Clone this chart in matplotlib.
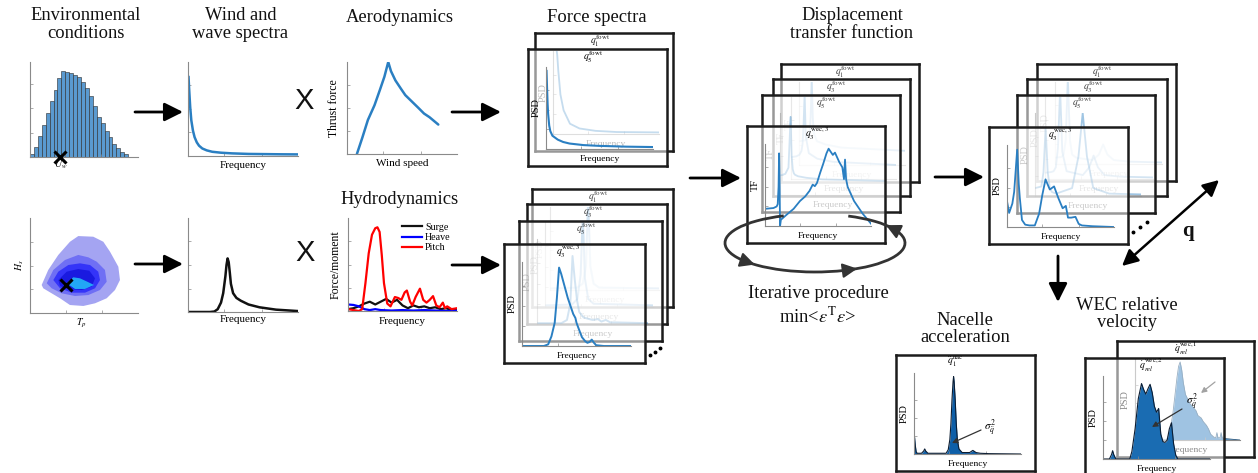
import numpy as np
import matplotlib
matplotlib.use("Agg")
import matplotlib.pyplot as plt
from matplotlib.patches import Arc

W, H = 1258, 473
plt.rcParams["font.family"] = ["Liberation Serif", "DejaVu Serif"]
plt.rcParams["mathtext.fontset"] = "stix"

# ---------------------------------------------------------------- data
# wind speed histogram (counts per bin)
hist_counts = [8, 30, 62, 95, 130, 165, 200, 235, 255, 252, 248, 243, 238,
               222, 205, 180, 152, 120, 100, 78, 58, 40, 26, 15, 8]
hist_mark = 7.6

# wind spectrum
wind_freq = [0.005, 0.01, 0.02, 0.03, 0.045, 0.06, 0.08, 0.1, 0.13, 0.17,
             0.22, 0.3, 0.4, 0.55, 0.7, 0.85, 1.0]
wind_psd = [0.84, 0.72, 0.52, 0.38, 0.27, 0.2, 0.145, 0.11, 0.08, 0.06,
            0.045, 0.035, 0.028, 0.022, 0.02, 0.018, 0.017]

# wave spectrum
wave_freq = [0, 0.2, 0.24, 0.27, 0.3, 0.32, 0.34, 0.35, 0.36, 0.37, 0.38,
             0.39, 0.41, 0.44, 0.48, 0.55, 0.65, 0.8, 1.0]
wave_psd = [0, 0, 0.005, 0.03, 0.1, 0.2, 0.38, 0.5, 0.57, 0.53, 0.42, 0.3,
            0.2, 0.15, 0.12, 0.08, 0.05, 0.025, 0.01]

# scatter diagram contours (Tp, Hs), outer to inner level
contour_levels = [
    ([0.108, 0.169, 0.262, 0.37, 0.447, 0.586, 0.679, 0.741, 0.818, 0.833,
      0.787, 0.71, 0.602, 0.494, 0.37, 0.278, 0.201, 0.123],
     [0.295, 0.453, 0.611, 0.75, 0.81, 0.803, 0.75, 0.645, 0.487, 0.347,
      0.242, 0.155, 0.102, 0.074, 0.084, 0.155, 0.207, 0.26]),
    ([0.155, 0.216, 0.324, 0.447, 0.54, 0.618, 0.694, 0.71, 0.648, 0.54,
      0.417, 0.294, 0.201],
     [0.313, 0.453, 0.558, 0.611, 0.586, 0.54, 0.453, 0.329, 0.242, 0.189,
      0.179, 0.207, 0.26]),
    ([0.216, 0.262, 0.355, 0.463, 0.556, 0.632, 0.648, 0.602, 0.509, 0.386,
      0.278],
     [0.347, 0.435, 0.505, 0.523, 0.505, 0.435, 0.347, 0.26, 0.214, 0.214,
      0.26]),
    ([0.262, 0.34, 0.447, 0.549, 0.602, 0.571, 0.479, 0.355, 0.278],
     [0.347, 0.435, 0.463, 0.445, 0.365, 0.277, 0.242, 0.249, 0.284]),
    ([0.34, 0.401, 0.463, 0.531, 0.593, 0.509, 0.417],
     [0.313, 0.376, 0.365, 0.329, 0.295, 0.253, 0.253]),
]
contour_colors = ["#a4a4f2", "#6f6ff4", "#3434f8", "#1a1ae0", "#22a6f6"]
sea_state = (0.333, 0.295)

# thrust curve
thrust_ws = [0.09, 0.14, 0.19, 0.25, 0.30, 0.34, 0.375, 0.40, 0.44, 0.49,
             0.53, 0.59, 0.65, 0.70, 0.75, 0.83]
thrust_f = [0.0, 0.18, 0.37, 0.53, 0.70, 0.84, 1.0, 0.9, 0.8, 0.71, 0.64,
            0.57, 0.5, 0.44, 0.4, 0.32]

# hydrodynamic excitation
pitch_freq = [0, 0.05, 0.1, 0.13, 0.16, 0.19, 0.22, 0.25, 0.27, 0.29, 0.31,
              0.33, 0.36, 0.39, 0.43, 0.46, 0.49, 0.52, 0.54, 0.57, 0.59,
              0.62, 0.66, 0.69, 0.72, 0.75, 0.78, 0.81, 0.84, 0.87, 0.89,
              0.91, 0.95, 1.0]
pitch_val = [0.02, 0.01, 0.0, 0.02, 0.3, 0.62, 0.82, 0.89, 0.9, 0.85, 0.6,
             0.3, 0.08, 0.05, 0.15, 0.14, 0.12, 0.2, 0.22, 0.1, 0.06, 0.15,
             0.24, 0.12, 0.09, 0.12, 0.16, 0.06, 0.04, 0.09, 0.03, 0.05,
             0.02, 0.03]
surge_freq = [0, 0.05, 0.1, 0.15, 0.2, 0.25, 0.3, 0.35, 0.4, 0.45, 0.5,
              0.55, 0.6, 0.65, 0.7, 0.75, 0.8, 0.85, 0.9, 0.95, 1.0]
surge_val = [0.02, 0.03, 0.05, 0.08, 0.1, 0.07, 0.1, 0.13, 0.09, 0.12, 0.06,
             0.03, 0.06, 0.04, 0.05, 0.03, 0.04, 0.02, 0.03, 0.01, 0.02]
heave_freq = [0, 0.05, 0.1, 0.15, 0.2, 0.25, 0.3, 0.4, 0.5, 0.6, 0.7, 0.8,
              0.9, 1.0]
heave_val = [0.07, 0.065, 0.05, 0.02, 0.01, 0.02, 0.01, 0.005, 0.01, 0.005,
             0.01, 0.005, 0.0, 0.005]

# wind force spectra
fw_q1_freq = [0.02, 0.04, 0.05, 0.07, 0.1, 0.16, 0.25, 0.4, 0.6, 1.0]
fw_q1_psd = [1.2, 1.0, 0.8, 0.5, 0.3, 0.13, 0.07, 0.04, 0.025, 0.02]
fw_q5_freq = [0.005, 0.01, 0.015, 0.02, 0.03, 0.04, 0.06, 0.08, 0.11, 0.16,
              0.22, 0.35, 0.5, 0.75, 1.0]
fw_q5_psd = [1.0, 0.78, 0.58, 0.45, 0.3, 0.23, 0.17, 0.15, 0.12, 0.09, 0.07,
             0.05, 0.04, 0.03, 0.025]

# wave force spectra
fh_freq = [0, 0.25, 0.3, 0.33, 0.35, 0.37, 0.4, 0.45, 1.0]
fh_q1_psd = [0.02, 0.03, 0.08, 0.3, 1.15, 0.3, 0.08, 0.03, 0.02]
fh_q3_psd = [0.02, 0.03, 0.1, 0.4, 1.15, 0.35, 0.1, 0.04, 0.02]
fh_q5_freq = [0, 0.22, 0.27, 0.3, 0.32, 0.34, 0.36, 0.38, 0.42, 0.5, 0.55,
              0.58, 0.62, 0.66, 0.7, 1.0]
fh_q5_psd = [0.01, 0.01, 0.05, 0.25, 0.84, 0.55, 0.3, 0.15, 0.08, 0.05, 0.06,
             0.03, 0.05, 0.02, 0.02, 0.01]
fh_w3_freq = [0, 0.2, 0.24, 0.27, 0.3, 0.32, 0.34, 0.36, 0.39, 0.42, 0.44,
              0.47, 0.49, 0.5, 0.53, 0.55, 0.58, 0.6, 0.62, 0.64, 0.66, 0.68,
              0.75, 1.0]
fh_w3_psd = [0, 0, 0.02, 0.12, 0.29, 0.6, 0.98, 0.9, 0.75, 0.6, 0.52, 0.4,
             0.35, 0.29, 0.18, 0.11, 0.06, 0.04, 0.05, 0.08, 0.04, 0.01, 0.0,
             0.0]

# displacement transfer functions
tf_back_freq = [0, 0.05, 0.08, 0.1, 0.11, 0.12, 0.13, 0.14, 0.17, 0.25, 0.4,
                0.7, 1.0]
tf_q1 = [0.3, 0.31, 0.33, 0.4, 0.6, 1.1, 0.6, 0.4, 0.3, 0.26, 0.22, 0.2, 0.18]
tf_q3 = [0.28, 0.29, 0.31, 0.36, 0.45, 0.7, 1.1, 0.55, 0.33, 0.26, 0.22,
         0.2, 0.18]
tf_q5 = [0.25, 0.27, 0.35, 1.0, 0.5, 0.33, 0.28, 0.26, 0.24, 0.22, 0.2,
         0.19, 0.18]
tf_w3_freq = [0, 0.08, 0.11, 0.12, 0.128, 0.133, 0.138, 0.142, 0.15, 0.2,
              0.27, 0.33, 0.38, 0.42, 0.45, 0.47, 0.49, 0.52, 0.55, 0.58,
              0.6, 0.62, 0.64, 0.66, 0.68, 0.7, 0.73, 0.745, 0.755, 0.765,
              0.78, 0.84, 0.92, 1.0]
tf_w3 = [0.22, 0.23, 0.25, 0.28, 0.5, 0.93, 0.5, 0.0, 0.08, 0.14, 0.22, 0.32,
         0.38, 0.45, 0.53, 0.51, 0.55, 0.68, 0.8, 0.93, 0.99, 0.95, 0.91,
         0.94, 0.88, 0.82, 0.75, 0.6, 0.85, 0.6, 0.5, 0.32, 0.16, 0.03]

# displacement response spectra
rs_back_freq = [0, 0.06, 0.08, 0.1, 0.12, 0.14, 0.16, 0.2, 0.35, 0.41, 0.45,
                0.49, 0.55, 0.7, 1.0]
rs_q1 = [0.08, 0.09, 0.12, 0.3, 1.1, 0.3, 0.12, 0.08, 0.05, 0.12, 0.25,
         0.12, 0.05, 0.03, 0.02]
rs_q3 = [0.08, 0.09, 0.1, 0.15, 0.4, 1.15, 0.35, 0.1, 0.05, 0.15, 0.3, 0.15,
         0.05, 0.03, 0.02]
rs_q5 = [0.1, 0.12, 0.3, 0.86, 0.3, 0.1, 0.05, 0.03, 0.1, 0.5, 1.05, 0.5,
         0.1, 0.03, 0.02]
rs_w3_freq = [0, 0.02, 0.05, 0.067, 0.08, 0.095, 0.11, 0.12, 0.14, 0.17,
              0.21, 0.26, 0.3, 0.33, 0.36, 0.4, 0.44, 0.48, 0.52, 0.55, 0.57,
              0.6, 0.64, 0.67, 0.7, 0.8, 1.0]
rs_w3 = [0.33, 0.18, 0.3, 0.45, 0.7, 0.99, 0.55, 0.37, 0.09, 0.03, 0.02,
         0.02, 0.17, 0.41, 0.61, 0.48, 0.52, 0.37, 0.24, 0.27, 0.12, 0.12,
         0.13, 0.04, 0.02, 0.01, 0.0]

# nacelle acceleration spectrum
nac_freq = [0, 0.005, 0.012, 0.02, 0.03, 0.07, 0.09, 0.1, 0.11, 0.13, 0.3,
            0.32, 0.335, 0.345, 0.355, 0.365, 0.37, 0.375, 0.385, 0.395,
            0.405, 0.42, 0.45, 0.52, 0.55, 0.58, 0.62, 0.7, 1.0]
nac_psd = [0.02, 0.23, 0.12, 0.03, 0.01, 0.01, 0.04, 0.07, 0.04, 0.01, 0.01,
           0.06, 0.2, 0.42, 0.75, 1.0, 1.07, 1.0, 0.75, 0.42, 0.2, 0.07,
           0.02, 0.02, 0.05, 0.02, 0.01, 0.005, 0.0]

# WEC relative velocity spectra
wec1_freq = [0, 0.3, 0.33, 0.36, 0.38, 0.4, 0.415, 0.43, 0.445, 0.46, 0.48,
             0.5, 0.52, 0.55, 0.58, 0.6, 0.63, 0.65, 0.68, 0.7, 0.72, 0.75,
             0.77, 0.78, 0.79, 0.81, 0.82, 0.83, 0.85, 1.0]
wec1_psd = [0, 0, 0.1, 0.35, 0.6, 0.85, 1.0, 1.06, 0.95, 0.78, 0.62, 0.56,
            0.5, 0.45, 0.40, 0.33, 0.3, 0.25, 0.2, 0.15, 0.08, 0.04, 0.03,
            0.1, 0.03, 0.03, 0.1, 0.03, 0.02, 0.0]
wec2_freq = [0, 0.06, 0.08, 0.09, 0.1, 0.12, 0.25, 0.27, 0.3, 0.33, 0.36,
             0.38, 0.40, 0.42, 0.44, 0.46, 0.48, 0.5, 0.52, 0.54, 0.56, 0.58,
             0.6, 0.62, 0.64, 0.66, 0.68, 0.70, 1.0]
wec2_psd = [0, 0.0, 0.06, 0.11, 0.06, 0.0, 0.0, 0.1, 0.4, 0.8, 1.0, 0.92,
            0.86, 0.93, 0.99, 0.88, 0.7, 0.62, 0.67, 0.33, 0.23, 0.22, 0.25,
            0.4, 0.48, 0.2, 0.05, 0.0, 0.0]

BLUE = "#2a7fc2"
NAC_FILL = "#0e5fa8"
WEC_FILL = "#1a6cb2"
WEC_BACK_FILL = "#2c7cc0"

# ---------------------------------------------------------------- helpers
fig = plt.figure(figsize=(W / 100, H / 100), dpi=100)


def fx(x):
    return x / W


def fy(y):
    return 1 - y / H


def add_box(x0, y0, x1, y1, z):
    ax = fig.add_axes([fx(x0), fy(y1), (x1 - x0) / W, (y1 - y0) / H])
    ax.set_zorder(z)
    return ax


def label(ax, x, y, s, **kw):
    kw.setdefault("ha", "center")
    kw.setdefault("va", "center")
    return ax.text(fx(x), fy(y), s, transform=fig.transFigure, **kw)


def style_mini(ax, xlim=(0, 1), ylim=(0, 1), xticks=(0.33, 0.67),
               yticks=(0.25, 0.5, 0.75), alpha=1.0):
    ax.set_xlim(*xlim)
    ax.set_ylim(*ylim)
    ax.patch.set_visible(False)
    ax.spines["top"].set_visible(False)
    ax.spines["right"].set_visible(False)
    for s in ("left", "bottom"):
        ax.spines[s].set_color("#8a8a8a")
        ax.spines[s].set_linewidth(0.8)
        ax.spines[s].set_alpha(alpha)
    ax.set_xticks(xticks)
    ax.set_yticks(yticks)
    ax.tick_params(direction="in", length=2, width=0.5,
                   colors=(0.54, 0.54, 0.54, alpha),
                   labelleft=False, labelbottom=False)


def stack_frame(x0, y0, x1, y1, z, ylab="PSD", top=None, top_dx=-4,
                top_dy=8, fade=0.55, ylim=(0, 1.05), dim=1.0):
    fr = add_box(x0, y0, x1, y1, z)
    fr.set_xticks([])
    fr.set_yticks([])
    fr.set_facecolor((1, 1, 1, fade))
    for sp in fr.spines.values():
        sp.set_linewidth(1.8)
        sp.set_color("#1c1c1c")
    inner = add_box(x0 + 18, y0 + 18, x1 - 14, y1 - 17, z + 0.5)
    style_mini(inner, ylim=ylim, alpha=dim)
    label(inner, x0 + 8, (y0 + y1 + 1) / 2, ylab, rotation=90, fontsize=7.5,
          alpha=dim)
    label(inner, (x0 + x1 + 4) / 2, y1 - 7, "Frequency", fontsize=6.8,
          alpha=dim)
    if top:
        label(inner, (x0 + x1) / 2 + top_dx, y0 + top_dy, top, fontsize=7,
              alpha=min(1.0, dim + 0.3))
    return fr, inner


def pointer(ax, x0, y0, x1, y1):
    ax.annotate("", xy=(fx(x1), fy(y1)), xycoords="figure fraction",
                xytext=(fx(x0), fy(y0)), textcoords="figure fraction",
                arrowprops=dict(arrowstyle="-|>", color="#333333", lw=0.9,
                                mutation_scale=8, shrinkA=0, shrinkB=0))


# ---------------------------------------------------------------- row 1
ax = add_box(30, 62, 138, 157, 1)
ax.bar(range(len(hist_counts)), hist_counts, width=1, align="edge",
       color="#5a9ad0", edgecolor="#2a2a2a", linewidth=0.4)
style_mini(ax, xlim=(0, 27.5), ylim=(0, 282), xticks=(9, 18),
           yticks=(72, 144, 216))
ax.plot(hist_mark, 0, marker="x", ms=8, mew=2.2, color="k", clip_on=False,
        zorder=5)
label(ax, 61, 165, r"$U_w$", fontsize=7)

ax = add_box(188, 62, 298, 156, 1)
ax.plot(wind_freq, wind_psd, color=BLUE, lw=1.8)
style_mini(ax)
label(ax, 243, 165, "Frequency", fontsize=8)

ax = add_box(347, 62, 457, 154, 1)
ax.plot(thrust_ws, thrust_f, color=BLUE, lw=1.8, solid_capstyle="round")
style_mini(ax, ylim=(0, 1.0))
label(ax, 334, 108, "Thrust force", rotation=90, fontsize=8.5)
label(ax, 402, 164, "Wind speed", fontsize=8)

# ---------------------------------------------------------------- row 2
ax = add_box(30, 218, 138, 313, 1)
for (px, py), col in zip(contour_levels, contour_colors):
    ax.fill(px, py, color=col, lw=0)
style_mini(ax)
ax.plot(*sea_state, marker="x", ms=8, mew=2.2, color="k")
label(ax, 20, 265, r"$H_s$", rotation=90, fontsize=7)
label(ax, 81, 323, r"$T_p$", fontsize=7)

ax = add_box(188, 218, 298, 312, 1)
ax.plot(wave_freq, wave_psd, color="#111111", lw=1.8)
style_mini(ax)
label(ax, 243, 320, "Frequency", fontsize=8)

ax = add_box(348, 218, 457, 311, 1)
ax.plot(surge_freq, surge_val, color="#111111", lw=1.6, label="Surge")
ax.plot(heave_freq, heave_val, color="#0000ff", lw=1.6, label="Heave")
ax.plot(pitch_freq, pitch_val, color="#ff0000", lw=1.6, label="Pitch")
style_mini(ax)
ax.legend(loc="upper left", bbox_to_anchor=(fx(402), fy(223)),
          bbox_transform=fig.transFigure, frameon=False, fontsize=7.2,
          handlelength=2.0, handletextpad=0.3, labelspacing=0.12,
          borderpad=0, borderaxespad=0)
label(ax, 336, 265, "Force/moment", rotation=90, fontsize=8.5)
label(ax, 402, 321, "Frequency", fontsize=8)

# ---------------------------------------------------------------- force spectra
_, inn = stack_frame(535, 33, 673, 151, 2, top=r"$q_1^{\mathrm{fowt}}$",
                     dim=0.6)
inn.plot(fw_q1_freq, fw_q1_psd, color=BLUE, lw=1.3, alpha=0.6)
_, inn = stack_frame(528, 49, 667, 166, 3, top=r"$q_5^{\mathrm{fowt}}$")
inn.plot(fw_q5_freq, fw_q5_psd, color=BLUE, lw=1.5)

wave_force_stack = [
    ((532, 189, 673, 307), r"$q_1^{\mathrm{fowt}}$", fh_freq, fh_q1_psd),
    ((527, 204, 667, 324), r"$q_3^{\mathrm{fowt}}$", fh_freq, fh_q3_psd),
    ((519, 221, 662, 341), r"$q_5^{\mathrm{fowt}}$", fh_q5_freq, fh_q5_psd),
    ((504, 244, 645, 363), r"$q_3^{\mathrm{wec,3}}$", fh_w3_freq, fh_w3_psd),
]
for k, (bx, tl, fq, vals) in enumerate(wave_force_stack):
    front = k == len(wave_force_stack) - 1
    d = 1.0 if front else 0.45
    _, inn = stack_frame(*bx, 2 + k, top=tl, dim=d,
                         top_dx=-6 if front else -4)
    inn.plot(fq, vals, color=BLUE, lw=1.4, alpha=d)

# ---------------------------------------------------------------- transfer functions
tf_stack = [
    ((781, 64, 919, 182), r"$q_1^{\mathrm{fowt}}$", tf_back_freq, tf_q1),
    ((773, 79, 910, 196), r"$q_3^{\mathrm{fowt}}$", tf_back_freq, tf_q3),
    ((762, 95, 900, 212), r"$q_5^{\mathrm{fowt}}$", tf_back_freq, tf_q5),
    ((747, 126, 885, 243), r"$q_3^{\mathrm{wec,3}}$", tf_w3_freq, tf_w3),
]
for k, (bx, tl, fq, vals) in enumerate(tf_stack):
    front = k == len(tf_stack) - 1
    d = 1.0 if front else 0.45
    _, inn = stack_frame(*bx, 2 + k, ylab="TF", top=tl, dim=d,
                         top_dx=1 if front else -5)
    inn.plot(fq, vals, color=BLUE, lw=1.3, alpha=d)

# ---------------------------------------------------------------- response spectra
rs_stack = [
    ((1037, 64, 1176, 181), r"$q_1^{\mathrm{fowt}}$", rs_back_freq, rs_q1),
    ((1027, 79, 1167, 196), r"$q_3^{\mathrm{fowt}}$", rs_back_freq, rs_q3),
    ((1017, 95, 1155, 213), r"$q_5^{\mathrm{fowt}}$", rs_back_freq, rs_q5),
    ((989, 127, 1128, 244), r"$q_3^{\mathrm{wec,3}}$", rs_w3_freq, rs_w3),
]
for k, (bx, tl, fq, vals) in enumerate(rs_stack):
    front = k == len(rs_stack) - 1
    d = 1.0 if front else 0.45
    _, inn = stack_frame(*bx, 2 + k, top=tl, dim=d,
                         top_dx=2 if front else -4)
    inn.plot(fq, vals, color=BLUE, lw=1.3, alpha=d)

# ---------------------------------------------------------------- nacelle
_, inn = stack_frame(896, 355, 1035, 471, 2, top=r"$\ddot{q}_1^{\mathrm{nac}}$",
                     top_dx=-10, top_dy=7, fade=1.0, ylim=(0, 1.12))
inn.fill_between(nac_freq, nac_psd, color=NAC_FILL, lw=0)
inn.plot(nac_freq, nac_psd, color="#0b1d33", lw=0.8)
pointer(inn, 981, 430, 952, 443)
label(inn, 990, 428, r"$\sigma^2_{\ddot{q}}$", fontsize=8)

# ---------------------------------------------------------------- WEC
_, inn = stack_frame(1117, 341, 1254, 457, 2,
                     top=r"$\dot{q}_{rel}^{\mathrm{wec,1}}$", top_dx=0,
                     top_dy=7, ylim=(0, 1.1))
inn.fill_between(wec1_freq, wec1_psd, color=WEC_BACK_FILL, lw=0)
inn.plot(wec1_freq, wec1_psd, color="#1d4f7a", lw=0.6)
pointer(inn, 1215, 382, 1201, 393)
_, inn = stack_frame(1085, 358, 1224, 476, 3,
                     top=r"$\dot{q}_{rel}^{\mathrm{wec,2}}$", top_dx=-4,
                     top_dy=7, ylim=(0, 1.1))
inn.fill_between(wec2_freq, wec2_psd, color=WEC_FILL, lw=0)
inn.plot(wec2_freq, wec2_psd, color="#0b1d33", lw=0.8)
pointer(inn, 1182, 409, 1152, 427)
label(inn, 1192, 402, r"$\sigma^2_{\dot{q}}$", fontsize=8)

# ---------------------------------------------------------------- overlay
ov = fig.add_axes([0, 0, 1, 1])
ov.set_xlim(0, W)
ov.set_ylim(H, 0)
ov.axis("off")
ov.set_zorder(50)

titles = [
    ("Environmental", 86, 16), ("conditions", 86, 33),
    ("Wind and", 241, 16), ("wave spectra", 240, 33),
    ("Aerodynamics", 400, 18), ("Force spectra", 597, 18),
    ("Hydrodynamics", 399, 199),
    ("Displacement", 852, 15), ("transfer function", 852, 33),
    ("Iterative procedure", 818, 293),
    ("Nacelle", 965, 320), ("acceleration", 965, 337),
    ("WEC relative", 1127, 305), ("velocity", 1127, 322),
]
for s, x, y in titles:
    ov.text(x, y, s, ha="center", va="center", fontsize=13.3, color="#111111")
ov.text(818, 316, r"min<$\varepsilon^{\mathrm{T}}\varepsilon$>", ha="center",
        va="center", fontsize=13.3, color="#111111")

for x, y in ((304, 101), (305, 253)):
    ov.text(x, y, "X", ha="center", va="center", fontsize=21,
            family="Liberation Sans", color="#111111")


def arrow(x0, y0, x1, y1, style="-|>", color="k", lw=2.0, ms=28):
    ov.annotate("", xy=(x1, y1), xytext=(x0, y0),
                arrowprops=dict(arrowstyle=style + ",head_length=0.4,head_width=0.2",
                                color=color, lw=lw, mutation_scale=ms,
                                shrinkA=0, shrinkB=0))


for a in [(135, 112, 183, 112), (135, 264, 183, 264), (452, 112, 501, 112),
          (452, 265, 501, 265), (690, 178, 741, 178), (935, 177, 984, 177),
          (1058, 256, 1058, 302)]:
    arrow(*a)
arrow(1122, 266, 1219, 180, style="<|-|>", lw=1.8, ms=24)
ov.text(1188, 231, "q", ha="center", va="center", fontsize=15,
        fontweight="bold", color="#111111")

# iteration loop around the transfer-function stack
cx, cy, rx, ry = 815, 243, 90, 29
ov.add_patch(Arc((cx, cy), 2 * rx, 2 * ry, theta1=321, theta2=221,
                 color="#333333", lw=2.0))
for t_head, t_tail in ((132, 141), (62, 71), (322, 331)):
    h = (cx + rx * np.cos(np.radians(t_head)), cy + ry * np.sin(np.radians(t_head)))
    tl = (cx + rx * np.cos(np.radians(t_tail)), cy + ry * np.sin(np.radians(t_tail)))
    arrow(tl[0], tl[1], h[0], h[1], color="#333333", lw=1.5, ms=22)

# continuation dots
ov.plot([650, 655, 660], [355, 352, 348], "o", color="k", ms=1.8)
ov.plot([1133, 1140, 1147], [232, 227, 222], "o", color="k", ms=1.8)

fig.savefig("out.png", dpi=100)
